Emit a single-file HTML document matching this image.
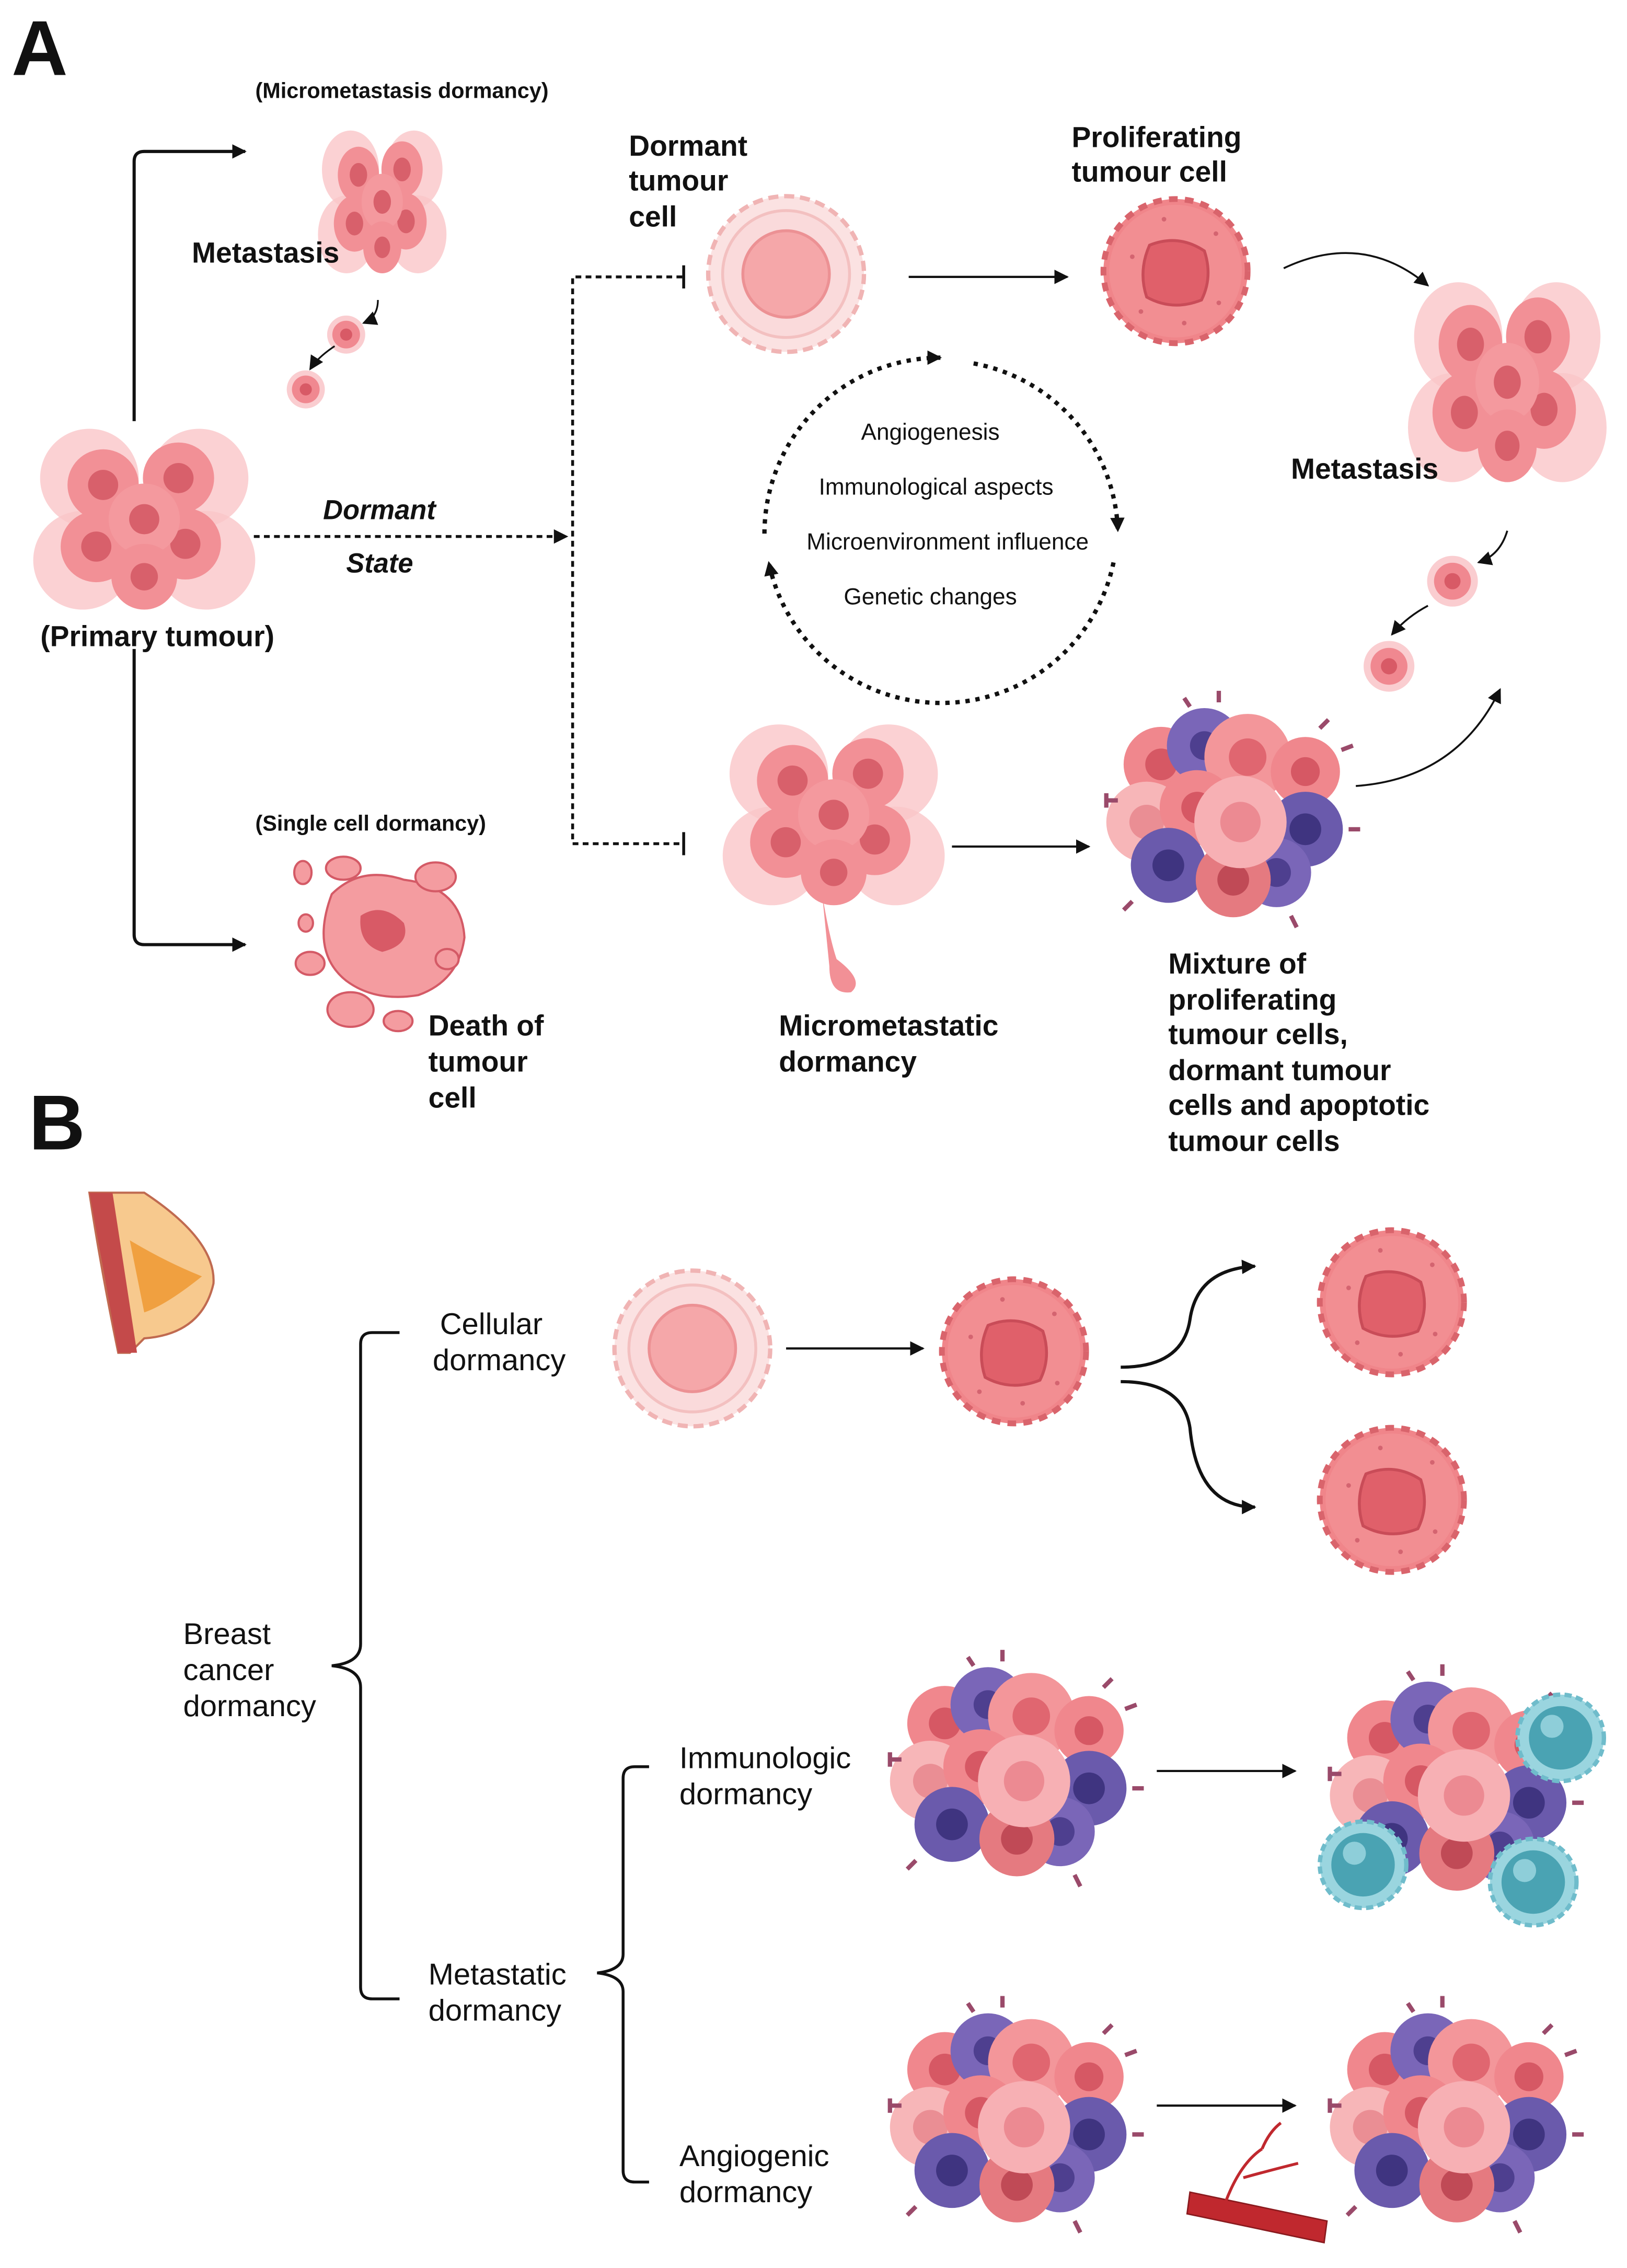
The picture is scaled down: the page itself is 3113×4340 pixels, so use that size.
<!DOCTYPE html>
<html><head><meta charset="utf-8"><style>
html,body{margin:0;padding:0;background:#fff}
svg{display:block}
text{font-family:"Liberation Sans",Arial,sans-serif;fill:#111}
.b{font-weight:bold}
</style></head><body>
<svg width="3113" height="4340" viewBox="0 0 1128 1572.6" xmlns="http://www.w3.org/2000/svg">
<defs>
<marker id="ah" markerWidth="10" markerHeight="10" refX="9" refY="5" orient="auto" markerUnits="userSpaceOnUse"><path d="M0,0 L10,5 L0,10 z" fill="#111"/></marker>
<g id="pcell">
 <circle r="50" fill="#f0858a" stroke="#d9646c" stroke-width="4" stroke-dasharray="6 5"/>
 <circle r="46" fill="#f28e92"/>
 <path d="M-18,-18 Q2,-26 20,-14 Q26,4 18,20 Q-2,28 -20,18 Q-26,0 -18,-18z" fill="#e0606a" stroke="#c94c58" stroke-width="2"/>
 <g fill="#d46470"><circle cx="-30" cy="-10" r="1.6"/><circle cx="28" cy="-26" r="1.6"/><circle cx="30" cy="22" r="1.6"/><circle cx="-24" cy="28" r="1.6"/><circle cx="-8" cy="-36" r="1.6"/><circle cx="6" cy="36" r="1.6"/></g>
</g>
<g id="dcell">
 <circle r="54" fill="#fbe2e2" stroke="#f0b4b4" stroke-width="3" stroke-dasharray="7 4"/>
 <circle r="44" fill="#fadadb" stroke="#f3c0c0" stroke-width="2"/>
 <circle r="30" fill="#f5a7a9" stroke="#ec9194" stroke-width="2"/>
</g>
<g id="mini">
 <circle r="22" fill="#f8b8bc" opacity="0.7"/>
 <circle r="16" fill="#f08890"/>
 <circle r="7" fill="#d85a66"/>
</g>
<g id="tcell">
 <circle r="30" fill="#9ad5df" stroke="#6fbccb" stroke-width="3" stroke-dasharray="5 3"/>
 <circle r="22" fill="#4aa3b3"/>
 <circle cx="-6" cy="-8" r="8" fill="#9fd8e2" opacity="0.8"/>
</g>
<g id="mix">
 <circle cx="-50" cy="-35" r="26" fill="#f0878d"/><circle cx="-50" cy="-35" r="11" fill="#d65864"/>
 <circle cx="-20" cy="-48" r="26" fill="#7a66b8"/><circle cx="-20" cy="-48" r="10" fill="#4e3f8f"/>
 <circle cx="10" cy="-40" r="30" fill="#f3969a"/><circle cx="10" cy="-40" r="13" fill="#e06670"/>
 <circle cx="50" cy="-30" r="24" fill="#f0878d"/><circle cx="50" cy="-30" r="10" fill="#d65864"/>
 <circle cx="-60" cy="5" r="28" fill="#f7b6b8"/><circle cx="-60" cy="5" r="12" fill="#ea8e94"/>
 <circle cx="-25" cy="-5" r="26" fill="#f0878d"/><circle cx="-25" cy="-5" r="11" fill="#d65864"/>
 <circle cx="50" cy="10" r="26" fill="#6a5aac"/><circle cx="50" cy="10" r="11" fill="#3f3480"/>
 <circle cx="-45" cy="35" r="26" fill="#6a5aac"/><circle cx="-45" cy="35" r="11" fill="#3f3480"/>
 <circle cx="30" cy="40" r="24" fill="#7a66b8"/><circle cx="30" cy="40" r="10" fill="#4e3f8f"/>
 <circle cx="0" cy="45" r="26" fill="#e57a80"/><circle cx="0" cy="45" r="11" fill="#c04a56"/>
 <circle cx="5" cy="5" r="32" fill="#f7b0b4"/><circle cx="5" cy="5" r="14" fill="#ec8a92"/>
 <g stroke="#9a4a6a" stroke-width="3" fill="none">
  <path d="M-80,-10 l-8,0 m0,-5 v10"/><path d="M80,10 l8,0"/><path d="M-10,-78 l0,-8"/><path d="M60,-60 l6,-6"/><path d="M-70,60 l-6,6"/><path d="M40,70 l4,8"/><path d="M-30,-75 l-4,-6"/><path d="M75,-45 l8,-3"/>
 </g>
</g>
<g id="cluster">
 <circle cx="-40" cy="-30" r="36" fill="#fac6c8" opacity="0.8"/><circle cx="40" cy="-30" r="36" fill="#fac6c8" opacity="0.8"/>
 <circle cx="-45" cy="30" r="36" fill="#fac6c8" opacity="0.8"/><circle cx="45" cy="30" r="36" fill="#fac6c8" opacity="0.8"/>
 <circle cx="-30" cy="-25" r="26" fill="#f29096"/><circle cx="-30" cy="-25" r="11" fill="#d8606b"/>
 <circle cx="25" cy="-30" r="26" fill="#f29096"/><circle cx="25" cy="-30" r="11" fill="#d8606b"/>
 <circle cx="-35" cy="20" r="26" fill="#f29096"/><circle cx="-35" cy="20" r="11" fill="#d8606b"/>
 <circle cx="30" cy="18" r="26" fill="#f29096"/><circle cx="30" cy="18" r="11" fill="#d8606b"/>
 <circle cx="0" cy="0" r="26" fill="#f4999e"/><circle cx="0" cy="0" r="11" fill="#d8606b"/>
 <circle cx="0" cy="42" r="24" fill="#f29096"/><circle cx="0" cy="42" r="10" fill="#d8606b"/>
</g>
</defs>

<text x="8" y="52" class="b" font-size="54">A</text>
<text x="177" y="68" class="b" font-size="15">(Micrometastasis dormancy)</text>
<g transform="translate(265,140) scale(0.55,0.75)"><use href="#cluster"/></g>
<text x="133" y="182" class="b" font-size="20">Metastasis</text>
<g transform="translate(240,232) scale(0.6)"><use href="#mini"/></g>
<g transform="translate(212,270) scale(0.6)"><use href="#mini"/></g>
<path d="M262,208 Q262,220 252,224" stroke="#111" fill="none" stroke-width="1.2" marker-end="url(#ah)"/>
<path d="M232,240 Q220,248 215,256" stroke="#111" fill="none" stroke-width="1.2" marker-end="url(#ah)"/>
<g transform="translate(100,360) scale(0.95)"><use href="#cluster"/></g>
<text x="28" y="448" class="b" font-size="20">(Primary tumour)</text>
<path d="M93,292 V112 Q93,105 100,105 H170" stroke="#111" stroke-width="2.2" fill="none" marker-end="url(#ah)"/>
<path d="M93,450 V648 Q93,655 100,655 H170" stroke="#111" stroke-width="2.2" fill="none" marker-end="url(#ah)"/>
<text x="224" y="360" class="b" font-size="19" font-style="italic">Dormant</text>
<text x="240" y="397" class="b" font-size="19" font-style="italic">State</text>
<line x1="176" y1="372" x2="393" y2="372" stroke="#111" stroke-width="2" stroke-dasharray="4 3" marker-end="url(#ah)"/>
<path d="M473,192 H397 V585 H473" stroke="#111" stroke-width="2" fill="none" stroke-dasharray="4 3"/>
<line x1="474" y1="184" x2="474" y2="200" stroke="#111" stroke-width="2"/>
<line x1="474" y1="577" x2="474" y2="593" stroke="#111" stroke-width="2"/>
<text x="177" y="576" class="b" font-size="15">(Single cell dormancy)</text>
<g fill="#f49ca0" stroke="#d45a66" stroke-width="1.5">
<path d="M230,620 Q250,600 280,610 Q320,615 322,650 Q318,680 290,690 Q260,695 240,680 Q215,660 230,620z"/>
<ellipse cx="210" cy="605" rx="6" ry="8"/><ellipse cx="238" cy="602" rx="12" ry="8"/><ellipse cx="302" cy="608" rx="14" ry="10"/>
<ellipse cx="215" cy="668" rx="10" ry="8"/><ellipse cx="243" cy="700" rx="16" ry="12"/><ellipse cx="276" cy="708" rx="10" ry="7"/><ellipse cx="310" cy="665" rx="8" ry="7"/><ellipse cx="212" cy="640" rx="5" ry="6"/>
</g>
<path d="M250,635 Q265,625 280,640 Q285,655 265,660 Q248,655 250,635z" fill="#d85a66"/>
<text class="b" font-size="20"><tspan x="297" y="718">Death of</tspan><tspan x="297" y="743">tumour</tspan><tspan x="297" y="768">cell</tspan></text>
<text class="b" font-size="20"><tspan x="436" y="108">Dormant</tspan><tspan x="436" y="132">tumour</tspan><tspan x="436" y="157">cell</tspan></text>
<use href="#dcell" x="545" y="190"/>
<line x1="630" y1="192" x2="740" y2="192" stroke="#111" stroke-width="1.5" marker-end="url(#ah)"/>
<text class="b" font-size="20"><tspan x="743" y="102">Proliferating</tspan><tspan x="743" y="126">tumour cell</tspan></text>
<use href="#pcell" x="815" y="188"/>
<path d="M890,186 Q945,160 990,198" stroke="#111" stroke-width="1.3" fill="none" marker-end="url(#ah)"/>
<g transform="translate(1045,265) scale(0.85,1.05)"><use href="#cluster"/></g>
<text x="895" y="332" class="b" font-size="20">Metastasis</text>
<g transform="translate(1007,403) scale(0.8)"><use href="#mini"/></g>
<g transform="translate(963,462) scale(0.8)"><use href="#mini"/></g>
<path d="M1045,368 Q1040,385 1025,390" stroke="#111" stroke-width="1.3" fill="none" marker-end="url(#ah)"/>
<path d="M990,420 Q975,428 965,440" stroke="#111" stroke-width="1.3" fill="none" marker-end="url(#ah)"/>
<path d="M675,252 A122,122 0 0 1 775,368" stroke="#111" stroke-width="3" fill="none" stroke-dasharray="3 4" marker-end="url(#ah)"/>
<path d="M772,390 A122,122 0 0 1 533,390" stroke="#111" stroke-width="3" fill="none" stroke-dasharray="3 4" marker-end="url(#ah)"/>
<path d="M530,370 A122,122 0 0 1 652,248" stroke="#111" stroke-width="3" fill="none" stroke-dasharray="3 4" marker-end="url(#ah)"/>
<g font-size="16" text-anchor="middle"><text x="645" y="305">Angiogenesis</text><text x="649" y="343">Immunological aspects</text><text x="657" y="381">Microenvironment influence</text><text x="645" y="419">Genetic changes</text></g>
<g transform="translate(578,565) scale(0.95)"><use href="#cluster"/></g>
<path d="M570,620 Q575,650 580,665 Q600,680 590,688 Q575,690 575,670 Z" fill="#f29096"/>
<text class="b" font-size="20"><tspan x="540" y="718">Micrometastatic</tspan><tspan x="540" y="743">dormancy</tspan></text>
<line x1="660" y1="587" x2="755" y2="587" stroke="#111" stroke-width="1.5" marker-end="url(#ah)"/>
<g transform="translate(855,565)"><use href="#mix"/></g>
<path d="M940,545 Q1010,540 1040,478" stroke="#111" stroke-width="1.3" fill="none" marker-end="url(#ah)"/>
<text class="b" font-size="20"><tspan x="810" y="675">Mixture of</tspan><tspan x="810" y="700">proliferating</tspan><tspan x="810" y="724">tumour cells,</tspan><tspan x="810" y="749">dormant tumour</tspan><tspan x="810" y="773">cells and apoptotic</tspan><tspan x="810" y="798">tumour cells</tspan></text>

<text x="20" y="797" class="b" font-size="54">B</text>
<path d="M62,827 H100 Q150,860 148,890 Q140,925 100,928 L90,938 H82 Q70,880 62,827z" fill="#f7c98e" stroke="#c06a50" stroke-width="1.5"/>
<path d="M62,827 H78 L95,938 H82z" fill="#c44a4a"/>
<path d="M90,860 Q115,875 140,885 Q115,905 100,910z" fill="#f0a040"/>
<g font-size="21">
<text><tspan x="305" y="925">Cellular</tspan><tspan x="300" y="950">dormancy</tspan></text>
<text><tspan x="127" y="1140">Breast</tspan><tspan x="127" y="1165">cancer</tspan><tspan x="127" y="1190">dormancy</tspan></text>
<text><tspan x="471" y="1226">Immunologic</tspan><tspan x="471" y="1251">dormancy</tspan></text>
<text><tspan x="297" y="1376">Metastatic</tspan><tspan x="297" y="1401">dormancy</tspan></text>
<text><tspan x="471" y="1502">Angiogenic</tspan><tspan x="471" y="1527">dormancy</tspan></text>
</g>
<path d="M277,924 H258 Q250,924 250,932 V1140 Q250,1153 230,1155 Q250,1157 250,1170 V1378 Q250,1386 258,1386 H277" stroke="#111" stroke-width="2" fill="none"/>
<path d="M450,1225 H440 Q432,1225 432,1233 V1355 Q432,1366 414,1368 Q432,1370 432,1381 V1505 Q432,1513 440,1513 H450" stroke="#111" stroke-width="2" fill="none"/>
<g transform="translate(480,935)"><use href="#dcell"/></g>
<line x1="545" y1="935" x2="640" y2="935" stroke="#111" stroke-width="1.5" marker-end="url(#ah)"/>
<use href="#pcell" x="703" y="937"/>
<path d="M777,948 Q820,948 825,915 Q830,880 870,878" stroke="#111" stroke-width="2.2" fill="none" marker-end="url(#ah)"/>
<path d="M777,958 Q820,958 825,990 Q830,1045 870,1045" stroke="#111" stroke-width="2.2" fill="none" marker-end="url(#ah)"/>
<use href="#pcell" x="965" y="903"/>
<use href="#pcell" x="965" y="1040"/>
<g transform="translate(705,1230)"><use href="#mix"/></g>
<line x1="802" y1="1228" x2="898" y2="1228" stroke="#111" stroke-width="1.5" marker-end="url(#ah)"/>
<g transform="translate(1010,1240)"><use href="#mix"/></g>
<use href="#tcell" x="1082" y="1205"/><use href="#tcell" x="945" y="1293"/><use href="#tcell" x="1063" y="1305"/>
<g transform="translate(705,1470)"><use href="#mix"/></g>
<line x1="802" y1="1460" x2="898" y2="1460" stroke="#111" stroke-width="1.5" marker-end="url(#ah)"/>
<g transform="translate(1010,1470)"><use href="#mix"/></g>
<path d="M825,1520 L920,1540 L918,1555 L823,1535z" fill="#c0282e" stroke="#8a1a1e"/>
<path d="M850,1526 Q860,1500 875,1490 M862,1510 Q880,1505 900,1500 M875,1490 Q880,1478 888,1472" stroke="#c0282e" stroke-width="2" fill="none"/>
</svg>
</body></html>
